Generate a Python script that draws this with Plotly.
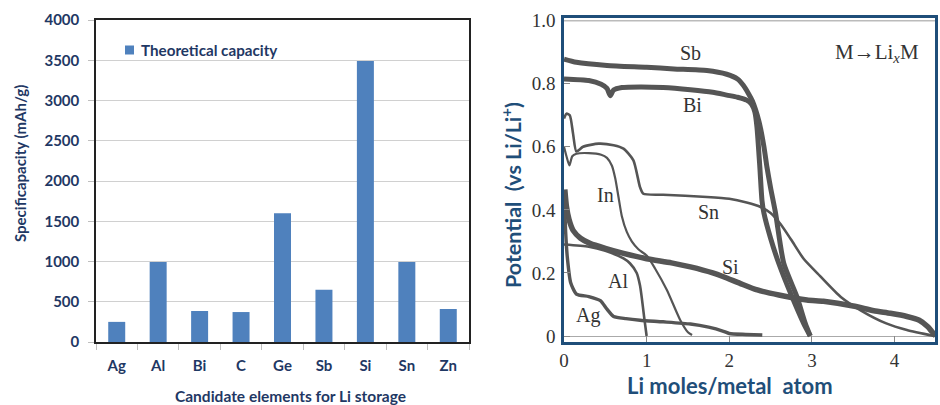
import plotly.graph_objects as go

# ---------------- data ----------------
elements = ["Ag", "Al", "Bi", "C", "Ge", "Sb", "Si", "Sn", "Zn"]
capacity = [250, 993, 385, 372, 1600, 650, 3490, 994, 410]
series_name = "Theoretical capacity"

y_left_ticks = [0, 500, 1000, 1500, 2000, 2500, 3000, 3500, 4000]

sb_x = [0, 0.15, 0.52, 1.0, 1.33, 1.73, 1.97, 2.1, 2.17, 2.23, 2.28, 2.36, 2.42, 2.456, 2.5, 2.56, 2.66, 2.82, 2.92, 2.98]
sb_y = [0.878, 0.868, 0.858, 0.852, 0.847, 0.842, 0.83, 0.815, 0.795, 0.77, 0.745, 0.68, 0.6, 0.536, 0.47, 0.39, 0.23, 0.124, 0.04, 0.0]

bi_x = [0, 0.3, 0.45, 0.52, 0.56, 0.6, 0.7, 0.92, 1.2, 1.53, 1.8, 1.97, 2.1, 2.21, 2.27, 2.31, 2.335, 2.37, 2.396, 2.42, 2.5, 2.6, 2.76, 2.9, 2.98]
bi_y = [0.815, 0.81, 0.798, 0.785, 0.762, 0.78, 0.788, 0.79, 0.788, 0.781, 0.773, 0.764, 0.757, 0.748, 0.735, 0.71, 0.663, 0.536, 0.43, 0.389, 0.31, 0.23, 0.124, 0.04, 0.0]

sn_x = [0.0, 0.03, 0.07, 0.11, 0.15, 0.23, 0.42, 0.6, 0.72, 0.84, 0.92, 0.96, 1.2, 1.73, 2.0, 2.21, 2.38, 2.5, 2.62, 2.75, 2.9, 3.1, 3.35, 3.6, 3.9, 4.15, 4.48]
sn_y = [0.69, 0.705, 0.7, 0.641, 0.585, 0.6, 0.61, 0.605, 0.594, 0.557, 0.472, 0.451, 0.448, 0.441, 0.435, 0.423, 0.409, 0.39, 0.355, 0.305, 0.245, 0.19, 0.124, 0.08, 0.04, 0.019, 0.0]

in_x = [0.0, 0.03, 0.065, 0.1, 0.15, 0.3, 0.45, 0.52, 0.58, 0.62, 0.66, 0.7, 0.76, 0.82, 0.9, 1.0, 1.1, 1.245, 1.406, 1.5, 1.55]
in_y = [0.6, 0.57, 0.541, 0.57, 0.578, 0.58, 0.575, 0.565, 0.54, 0.5, 0.44, 0.38, 0.33, 0.3, 0.275, 0.255, 0.215, 0.146, 0.051, 0.012, 0.003]

al_x = [0.0, 0.3, 0.5, 0.72, 0.8, 0.88, 0.92, 0.94, 0.97, 1.0]
al_y = [0.29, 0.283, 0.27, 0.246, 0.23, 0.2, 0.16, 0.124, 0.06, 0.0]

si_x = [0.01, 0.03, 0.06, 0.11, 0.2, 0.32, 0.5, 0.72, 1.0, 1.3, 1.53, 1.8, 1.93, 2.13, 2.34, 2.6, 2.94, 3.14, 3.5, 3.75, 3.95, 4.15, 4.3, 4.4, 4.45, 4.5]
si_y = [0.465, 0.41, 0.37, 0.335, 0.31, 0.293, 0.278, 0.262, 0.245, 0.232, 0.219, 0.2, 0.188, 0.167, 0.146, 0.13, 0.114, 0.11, 0.095, 0.08, 0.072, 0.062, 0.05, 0.03, 0.015, 0.0]

ag_x = [0.0, 0.01, 0.02, 0.04, 0.08, 0.15, 0.3, 0.44, 0.52, 0.6, 0.75, 0.92, 1.2, 1.53, 1.75, 1.93, 2.0, 2.2, 2.4]
ag_y = [0.46, 0.4, 0.33, 0.25, 0.17, 0.133, 0.125, 0.112, 0.085, 0.062, 0.055, 0.05, 0.045, 0.038, 0.028, 0.015, 0.008, 0.005, 0.003]

curve_labels = ["Sb", "Bi", "In", "Sn", "Si", "Al", "Ag"]
label_x = [1.53, 1.55, 0.5, 1.75, 2.02, 0.65, 0.29]
label_y = [0.896, 0.731, 0.446, 0.392, 0.219, 0.174, 0.066]

y_right_vals = [0, 0.2, 0.4, 0.6, 0.8, 1.0]
y_right_text = ["0", "0.2", "0.4", "0.6", "0.8", "1.0"]
x_right_vals = [0, 1, 2, 3, 4]

# ---------------- styles ----------------
W, H = 940, 405
NAVY = "#1F3864"
BLUE = "#1F4E79"
BAR = "#4F81BD"
CURVE = "#555555"
SANS = "Lato"
SERIF = "Liberation Serif"

def px_x(p):
    return p / W

def px_y(p):
    return 1 - p / H

fig = go.Figure()

fig.add_trace(go.Bar(
    x=elements, y=capacity, name=series_name,
    marker=dict(color=BAR, line=dict(width=0)),
    xaxis="x", yaxis="y", showlegend=False,
))

curves = [
    (sb_x, sb_y, 5), (bi_x, bi_y, 5), (sn_x, sn_y, 2.6), (in_x, in_y, 2.2),
    (al_x, al_y, 2.6), (si_x, si_y, 5.5), (ag_x, ag_y, 3.4),
]
for cx, cy, w in curves:
    fig.add_trace(go.Scatter(
        x=cx, y=cy, mode="lines", line=dict(color=CURVE, width=w, shape="spline", smoothing=0.6),
        xaxis="x2", yaxis="y2", showlegend=False, hoverinfo="skip",
    ))

annotations = []
for t, lx, ly in zip(curve_labels, label_x, label_y):
    annotations.append(dict(x=lx, y=ly, xref="x2", yref="y2", text=t, showarrow=False,
                            xanchor="center", yanchor="middle",
                            font=dict(family=SERIF, size=20, color="#333333")))
annotations.append(dict(x=3.79, y=0.896, xref="x2", yref="y2", text="M→Li<sub><i>x</i></sub>M",
                        showarrow=False, xanchor="center", yanchor="middle",
                        font=dict(family=SERIF, size=21, color="#333333")))

# legend (manual, to match placement)
annotations.append(dict(x=px_x(139), y=px_y(50), xref="paper", yref="paper",
                        xanchor="left", yanchor="middle", text=series_name, showarrow=False,
                        font=dict(family=SANS, size=15.2, color=NAVY, weight="bold")))

# axis titles
annotations.append(dict(x=px_x(20), y=px_y(164), xref="paper", yref="paper",
                        xanchor="center", yanchor="middle",
                        text="Specificapacity (mAh/g)", textangle=-90, showarrow=False,
                        font=dict(family=SANS, size=15, color=NAVY, weight="bold")))
annotations.append(dict(x=px_x(290), y=px_y(396), xref="paper", yref="paper",
                        xanchor="center", yanchor="middle",
                        text="Candidate elements for Li storage", showarrow=False,
                        font=dict(family=SANS, size=15.5, color=NAVY, weight="bold")))
annotations.append(dict(x=px_x(512), y=px_y(195), xref="paper", yref="paper",
                        xanchor="center", yanchor="middle",
                        text="Potential  (vs Li/Li<sup>+</sup>)", textangle=-90, showarrow=False,
                        font=dict(family=SANS, size=21.5, color=BLUE, weight="bold")))
annotations.append(dict(x=px_x(730), y=px_y(385), xref="paper", yref="paper",
                        xanchor="center", yanchor="middle",
                        text="Li moles/metal  atom", showarrow=False,
                        font=dict(family=SANS, size=22, color=BLUE, weight="bold")))

shapes = [
    dict(type="line", xref="x2 domain", yref="y2", x0=0, x1=1, y0=1.0, y1=1.0,
         line=dict(color="#BBBBBB", width=1.5)),
    dict(type="rect", xref="paper", yref="paper", x0=px_x(125), x1=px_x(134),
         y0=px_y(54.5), y1=px_y(45.5), fillcolor=BAR, line=dict(width=0)),
]

fig.update_layout(
    width=W, height=H, margin=dict(l=0, r=0, t=0, b=0, autoexpand=False),
    paper_bgcolor="white", plot_bgcolor="white",
    bargap=0.59,
    showlegend=False,
    xaxis=dict(domain=[px_x(96), px_x(469)], type="category", automargin=False,
               showline=True, linecolor="#222222", linewidth=1.5, mirror=True,
               ticks="outside", tickson="boundaries", ticklen=6, tickcolor="#BFBFBF",
               showgrid=False, ticklabelstandoff=9,
               tickfont=dict(family=SANS, size=15, color=NAVY, weight="bold")),
    yaxis=dict(domain=[px_y(342), px_y(20)], range=[0, 4000], tickvals=y_left_ticks,
               automargin=False,
               showline=True, linecolor="#222222", linewidth=1.5, mirror=True,
               showgrid=True, gridcolor="#D0D0D0", gridwidth=1,
               ticks="outside", ticklen=6, tickcolor="#BFBFBF", ticklabelstandoff=6,
               zeroline=False,
               tickfont=dict(family=SANS, size=15, color=NAVY, weight="bold")),
    xaxis2=dict(domain=[px_x(564), px_x(935)], range=[0, 4.49], anchor="y2",
                automargin=False, tickvals=x_right_vals,
                showline=True, linecolor=BLUE, linewidth=2.5, mirror=True,
                ticks="inside", ticklen=6, tickcolor="#888888", showgrid=False, zeroline=False,
                ticklabelstandoff=-1,
                tickfont=dict(family=SERIF, size=19, color="#333333")),
    yaxis2=dict(domain=[px_y(342), px_y(17.5)], range=[-0.019, 1.01], anchor="x2",
                automargin=False, tickvals=y_right_vals, ticktext=y_right_text,
                showline=True, linecolor=BLUE, linewidth=2.5, mirror=True,
                ticks="inside", ticklen=6, tickcolor="#888888", showgrid=False,
                zeroline=True, zerolinecolor="#AAAAAA", zerolinewidth=1,
                ticklabelstandoff=2,
                tickfont=dict(family=SERIF, size=19, color="#333333")),
    annotations=annotations,
    shapes=shapes,
)

fig.write_html("out.html", config={"displayModeBar": False},
               post_script="document.body.style.margin='0';document.body.style.padding='0';")
